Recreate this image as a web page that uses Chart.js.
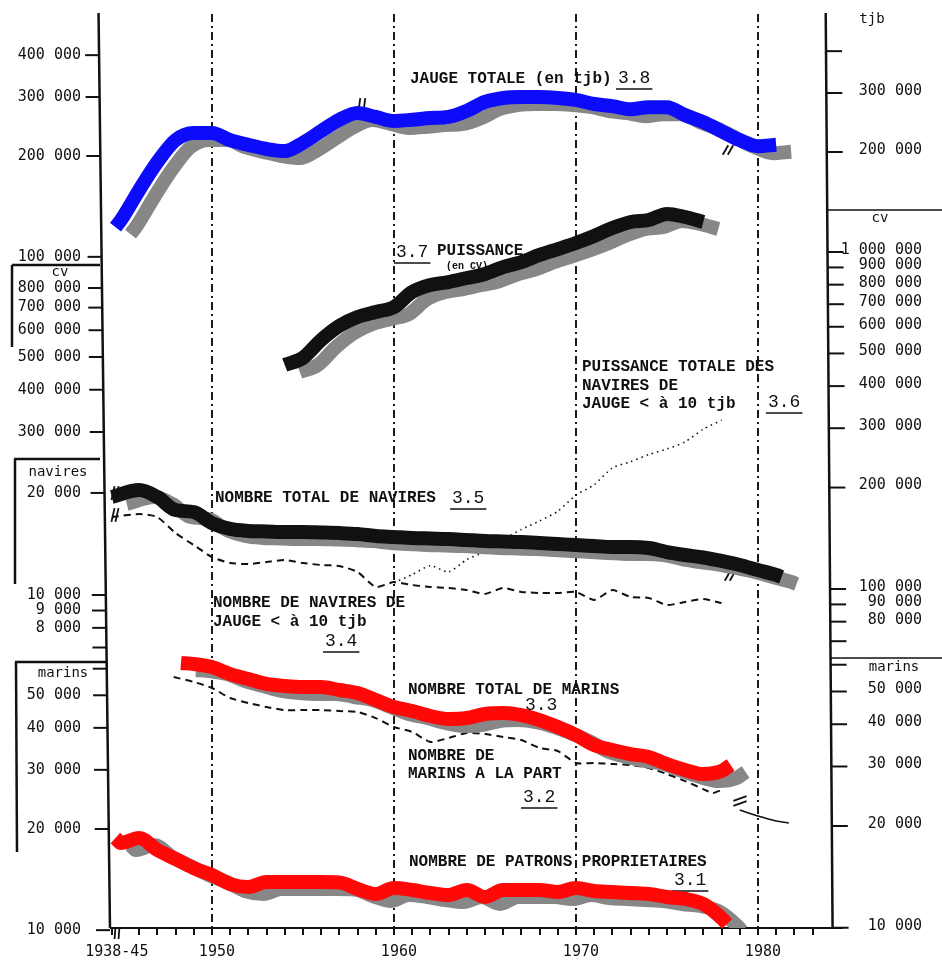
<!DOCTYPE html>
<html><head><meta charset="utf-8">
<script src="https://cdn.jsdelivr.net/npm/chart.js@4/dist/chart.umd.min.js"></script>
<style>html,body{margin:0;padding:0;background:#fff}canvas{display:block}</style>
</head><body>
<canvas id="c" width="942" height="970"></canvas>
<script>
// ================= DATA =================
// 3.8 Jauge totale (tjb)
const yearsJauge = [1944.7,1945,1946,1947,1948,1949,1950,1951,1952,1953,1954,1955,1956,1957,1958,1959,1960,1961,1962,1963,1964,1965,1966,1967,1968,1969,1970,1971,1972,1973,1974,1975,1976,1977,1978,1979,1980,1981];
const jaugeTotale = [121000,127000,156000,189000,220000,231000,231000,220000,213000,207000,204000,216000,234000,253000,265000,258000,251000,253000,256000,258000,269000,286000,294000,296000,296000,294000,290000,282000,278000,272000,276000,276000,261000,249000,234000,220000,211000,213000];
// 3.7 Puissance totale (cv)
const yearsPuissance = [1954,1955,1956,1957,1958,1959,1960,1961,1962,1963,1964,1965,1966,1967,1968,1969,1970,1971,1972,1973,1974,1975,1976,1977];
const puissanceTotale = [465000,488000,552000,608000,646000,669000,692000,767000,805000,822000,845000,869000,911000,943000,990000,1031000,1075000,1128000,1191000,1242000,1259000,1312000,1285000,1242000];
// 3.6 Puissance totale des navires de jauge < a 10 tjb (cv)
const yearsPuissancePetits = [1960,1961,1962,1963,1964,1965,1966,1967,1968,1969,1970,1971,1972,1973,1974,1975,1976,1977,1978];
const puissancePetits = [104000,110000,117000,112000,122000,129000,140000,150000,159000,170000,190000,204000,229000,239000,251000,261000,274000,299000,318000];
// 3.5 Nombre total de navires
const yearsNavires = [1944.5,1946,1947,1948,1949,1950,1951,1952,1953,1954,1955,1956,1957,1958,1959,1960,1961,1962,1963,1964,1965,1966,1967,1968,1969,1970,1971,1972,1973,1974,1975,1976,1977,1978,1979,1980,1981,1981.3];
const naviresTotal = [19460,20400,19460,17810,17570,16300,15660,15450,15400,15340,15340,15290,15230,15130,14930,14830,14730,14680,14630,14530,14430,14380,14330,14240,14140,14040,13950,13860,13860,13760,13390,13120,12900,12600,12260,11850,11460,11300];
// 3.4 Nombre de navires de jauge < a 10 tjb
const yearsPetitsNavires = [1944.5,1946,1947,1948,1949,1950,1951,1952,1953,1954,1955,1956,1957,1958,1959,1960,1961,1962,1963,1964,1965,1966,1967,1968,1969,1970,1971,1972,1973,1974,1975,1976,1977,1978];
const petitsNavires = [16980,17330,16980,15230,14040,12940,12430,12340,12510,12680,12430,12260,12180,11690,10560,10920,10700,10560,10490,10340,10070,10490,10210,10140,10140,10210,9670,10340,9870,9800,9340,9540,9730,9470];
// 3.3 Nombre total de marins
const yearsMarins = [1948.3,1949,1950,1951,1952,1953,1954,1955,1956,1957,1958,1959,1960,1961,1962,1963,1964,1965,1966,1967,1968,1969,1970,1971,1972,1973,1974,1975,1976,1977,1978,1978.5];
const marinsTotal = [61340,60900,59640,56840,54920,53080,52360,52000,52000,50940,49900,47540,45300,44080,42600,41720,42000,43200,43460,42880,41420,39500,37380,34900,33720,32800,32140,30620,29380,28580,29180,30420];
// 3.2 Nombre de marins a la part (and continuation after the break)
const yearsMarinsPart = [1947.9,1949,1950,1951,1952,1953,1954,1955,1956,1957,1958,1959,1960,1961,1962,1963,1964,1965,1966,1967,1968,1969,1970,1971,1972,1973,1974,1975,1976,1977,1977.5,1978];
const marinsPart = [55700,53820,51640,48200,46580,45300,44380,44380,44380,44080,43780,42000,39500,38180,35620,36620,37900,37640,36880,36120,34200,33500,30840,30840,30620,30420,29800,28580,27240,25780,25080,25620];
const yearsMarinsPartSuite = [1979,1980,1981,1981.7];
const marinsPartSuite = [22320,21420,20700,20420];
// 3.1 Nombre de patrons proprietaires
const yearsPatrons = [1944.7,1945,1946,1947,1948,1949,1950,1951,1952,1953,1954,1955,1956,1957,1958,1959,1960,1961,1962,1963,1964,1965,1966,1967,1968,1969,1970,1971,1972,1973,1974,1975,1976,1977,1978,1978.3];
const patrons = [18420,17800,18420,16960,15940,14980,14280,13420,13150,13600,13600,13600,13600,13560,12970,12530,13060,12880,12620,12440,12880,12280,12880,12880,12880,12710,13060,12790,12710,12620,12530,12280,12110,11700,10620,10200];

// tick labels
const xTickYears = [1944.5,1946,1947,1948,1949,1950,1951,1952,1953,1954,1955,1956,1957,1958,1959,1960,1961,1962,1963,1964,1965,1966,1967,1968,1969,1970,1971,1972,1973,1974,1975,1976,1977,1978,1979,1980,1981,1982,1983];
const xTickLabels = {1944.5:'1938-45',1950:'1950',1960:'1960',1970:'1970',1980:'1980'};
const ticksTjbLeft = [400000,300000,200000,100000];
const ticksCvLeft = [800000,700000,600000,500000,400000,300000];
const ticksNavLeft = [20000,10000,9000,8000];
const ticksNavLeftMinor = [7000];
const ticksMarLeft = [50000,40000,30000,20000,10000];
const ticksMarLeftMinor = [60000];
const ticksTjbRight = [300000,200000];
const ticksTjbRightMinor = [400000];
const ticksCvRight = [1000000,900000,800000,700000,600000,500000,400000,300000,200000,100000,90000,80000];
const ticksCvRightMinor = [70000];
const ticksMarRight = [50000,40000,30000,20000,10000];
const ticksMarRightMinor = [60000];

// ================= LAYOUT =================
const AREA = {left:104, right:828, top:14, bottom:928};
const X_MIN = 1944.07, X_MAX = 1983.85;
const sk = y => -5 + 0.0125*(y-50);          // slight skew of the scanned frame
const axisL = y => AREA.left + sk(y);
const axisR = y => AREA.right + 1 + 0.6*sk(y);

function logScale(v, p, k){
  const l = Math.log10(v);
  return {type:'logarithmic', axis:'y', position:'left', display:false, bounds:'data',
    min: Math.pow(10, l - (AREA.bottom - p)/k), max: Math.pow(10, l + (p - AREA.top)/k)};
}
const fmt = v => String(v).replace(/\B(?=(\d{3})+(?!\d))/g,' ');
const pts = (xs, ys) => xs.map((x,i)=>({x, y: ys[i]}));
const thick = (label, xs, ys, axis, color) => ({label, data: pts(xs,ys), yAxisID: axis, borderColor: color,
  borderWidth: 14, borderCapStyle:'butt', borderJoinStyle:'round', cubicInterpolationMode:'monotone',
  pointRadius:0, fill:false, shadow:true});
const thin = (label, xs, ys, axis, dash, w) => ({label, data: pts(xs,ys), yAxisID: axis, borderColor:'#111',
  borderWidth: w, borderDash: dash, tension:0.2, pointRadius:0, fill:false});

const LEFT_TICKS = [
  {scale:'tjbL', major:ticksTjbLeft, minor:[]},
  {scale:'cvL', major:ticksCvLeft, minor:[]},
  {scale:'navL', major:ticksNavLeft, minor:ticksNavLeftMinor},
  {scale:'marL', major:ticksMarLeft, minor:ticksMarLeftMinor},
];
const RIGHT_TICKS = [
  {scale:'tjbR', major:ticksTjbRight, minor:ticksTjbRightMinor},
  {scale:'cvR', major:ticksCvRight, minor:ticksCvRightMinor},
  {scale:'marR', major:ticksMarRight, minor:ticksMarRightMinor},
];
const MONO = '"Liberation Mono", "DejaVu Sans Mono", monospace';
const TEXTS = [
  {t:'JAUGE TOTALE (en tjb)', x:410, y:79},
  {t:'PUISSANCE', x:437, y:251},
  {t:'(en CV)', x:446, y:266, f:'bold 10px '+MONO},
  {t:'PUISSANCE TOTALE DES', x:582, y:367},
  {t:'NAVIRES DE', x:582, y:386},
  {t:'JAUGE < à 10 tjb', x:582, y:404},
  {t:'NOMBRE TOTAL DE NAVIRES', x:215, y:498},
  {t:'NOMBRE DE NAVIRES DE', x:213, y:603},
  {t:'JAUGE < à 10 tjb', x:213, y:622},
  {t:'NOMBRE TOTAL DE MARINS', x:408, y:690},
  {t:'NOMBRE DE', x:408, y:756},
  {t:'MARINS A LA PART', x:408, y:774},
  {t:'NOMBRE DE PATRONS PROPRIETAIRES', x:409, y:862},
];
const NUMS = [
  {t:'3.8', x:618, y:78}, {t:'3.7', x:396, y:252}, {t:'3.6', x:768, y:402},
  {t:'3.5', x:452, y:498}, {t:'3.4', x:325, y:641}, {t:'3.3', x:525, y:705, noUl:true},
  {t:'3.2', x:523, y:797}, {t:'3.1', x:674, y:880},
];
const BREAKS = [
  {x:728, y:150, a:-1.05, len:11, dx:5, dy:0},
  {x:730, y:576, a:-1.05, len:11, dx:5, dy:0},
  {x:740, y:801, a:-0.35, len:14, dx:0, dy:5},
  {x:115, y:493, a:-1.35, len:14, dx:4, dy:0},
  {x:115, y:515, a:-1.35, len:14, dx:4, dy:0},
  {x:362, y:104, a:-1.45, len:12, dx:5, dy:0},
  {x:117, y:933, a:-1.5, len:12, dx:4, dy:0},
];

// ================= PLUGINS =================
const shadowPlugin = {
  id:'shadow',
  beforeDatasetDraw(chart, args){
    const ds = chart.data.datasets[args.index];
    if (ds.shadow){ const c = chart.ctx; c.save(); c.shadowColor='#878787'; c.shadowOffsetX=15; c.shadowOffsetY=7; c.shadowBlur=0; }
  },
  afterDatasetDraw(chart, args){ if (chart.data.datasets[args.index].shadow) chart.ctx.restore(); }
};

const framePlugin = {
  id:'frame',
  beforeDatasetsDraw(chart){
    const c = chart.ctx; c.save();
    c.strokeStyle = '#111'; c.fillStyle = '#111'; c.lineCap='butt';
    // axis lines
    c.lineWidth = 2.5;
    c.beginPath(); c.moveTo(axisL(13),13); c.lineTo(axisL(AREA.bottom),AREA.bottom); c.stroke();
    c.beginPath(); c.moveTo(axisR(13),13); c.lineTo(axisR(AREA.bottom),AREA.bottom); c.stroke();
    c.lineWidth = 2;
    c.beginPath(); c.moveTo(axisL(AREA.bottom), AREA.bottom); c.lineTo(843, AREA.bottom); c.stroke();
    // panel boxes (left)
    const seg = (x1,y1,x2,y2,w)=>{ c.lineWidth=w; c.beginPath(); c.moveTo(x1,y1); c.lineTo(x2,y2); c.stroke(); };
    seg(12,265,100,265,2.5); seg(12,265,12,347,2.5);
    seg(14,459,100,459,2.5); seg(15,459,15,584,2.5);
    seg(15,662,107,662,2.5); seg(16,662,17,852,2.5);
    // panel separators (right)
    seg(828,210,942,210,1.6); seg(830,658,942,658,1.6);
    // unit labels
    c.font = '14px "DejaVu Sans Mono"'; c.textAlign='center'; c.textBaseline='middle';
    c.fillText('tjb', 872, 19); c.fillText('cv', 880, 218); c.fillText('marins', 894, 667);
    c.fillText('cv', 60, 272); c.fillText('navires', 58, 472); c.fillText('marins', 63, 673);
    // y ticks and labels
    c.font = '15px "DejaVu Sans Mono"'; c.textAlign='right';
    for (const g of LEFT_TICKS){
      const s = chart.scales[g.scale];
      for (const v of g.major.concat(g.minor)){
        const y = s.getPixelForValue(v), x = axisL(y);
        seg(x-14, y, x, y, 2);
        if (g.major.includes(v)) c.fillText(fmt(v), 81, y);
      }
    }
    for (const g of RIGHT_TICKS){
      const s = chart.scales[g.scale];
      for (const v of g.major.concat(g.minor)){
        const y = s.getPixelForValue(v), x = axisR(y);
        seg(x, y, x+16, y, 2);
        if (g.major.includes(v)) c.fillText(fmt(v), 922, y-2);
      }
    }
    // annotations
    c.textAlign='left';
    for (const t of TEXTS){ c.font = t.f || ('bold 16px '+MONO); c.fillText(t.t, t.x, t.y); }
    c.font = '18px '+MONO;
    for (const n of NUMS){
      c.fillText(n.t, n.x, n.y);
      if (!n.noUl){ const w = c.measureText(n.t).width; seg(n.x-2, n.y+11, n.x+w+2, n.y+11, 1.5); }
    }
    // break marks
    for (const b of BREAKS){
      const ux = Math.cos(b.a)*b.len/2, uy = Math.sin(b.a)*b.len/2;
      for (const s of [-0.5,0.5]){
        const cx = b.x + s*b.dx, cy = b.y + s*b.dy;
        seg(cx-ux, cy-uy, cx+ux, cy+uy, 1.8);
      }
    }
    c.restore();
  }
};

// ================= CHART =================
new Chart(document.getElementById('c'), {
  type:'line',
  data:{ datasets:[
    thick('3.8 Jauge totale (en tjb)', yearsJauge, jaugeTotale, 'tjb', 'rgb(12,12,250)'),
    thick('3.7 Puissance totale (en CV)', yearsPuissance, puissanceTotale, 'cv', '#111'),
    thick('3.5 Nombre total de navires', yearsNavires, naviresTotal, 'nav', '#111'),
    thick('3.3 Nombre total de marins', yearsMarins, marinsTotal, 'mar', 'rgb(255,8,8)'),
    thick('3.1 Nombre de patrons propriétaires', yearsPatrons, patrons, 'mar', 'rgb(255,8,8)'),
    thin('3.6 Puissance totale des navires de jauge < à 10 tjb', yearsPuissancePetits, puissancePetits, 'cv', [1.5,4], 1.6),
    thin('3.4 Nombre de navires de jauge < à 10 tjb', yearsPetitsNavires, petitsNavires, 'nav', [7,5], 2),
    thin('3.2 Nombre de marins à la part', yearsMarinsPart, marinsPart, 'mar', [7,5], 2),
    thin('3.2 (suite)', yearsMarinsPartSuite, marinsPartSuite, 'mar', [], 1.6),
  ]},
  options:{
    responsive:false, animation:false, devicePixelRatio:1,
    layout:{padding:{left:AREA.left, right:942-AREA.right, top:AREA.top, bottom:0}},
    plugins:{legend:{display:false}, tooltip:{enabled:false}, title:{display:false}},
    scales:{
      x:{type:'linear', min:X_MIN, max:X_MAX, bounds:'data',
        afterBuildTicks: s => { s.ticks = xTickYears.map(v=>({value:v})); },
        afterFit: s => { s.height = 970 - AREA.bottom; },
        grid:{ color: c => (c.tick && c.tick.value % 10 === 0) ? '#1a1a1a' : 'rgba(0,0,0,0)', lineWidth:2,
               tickColor:'#111', tickLength:7, tickWidth:2, drawOnChartArea:true },
        border:{display:false, dash:[8,4,2,4]},
        ticks:{autoSkip:false, maxRotation:0, minRotation:0, labelOffset:5, padding:8, color:'#111',
               font:{family:'DejaVu Sans Mono', size:15},
               callback: v => xTickLabels[v] || ''}
      },
      tjb: logScale(200000,154,335),
      cv: logScale(1000000,253.5,335),
      nav: logScale(10000,595,339),
      mar: logScale(20000,826,335),
      tjbL: logScale(200000,156,335),
      tjbR: logScale(200000,152,335),
      cvL: logScale(800000,288,338),
      cvR: logScale(1000000,252,337),
      navL: logScale(10000,595,339),
      marL: logScale(20000,829,336),
      marR: logScale(20000,826,338),
    }
  },
  plugins:[shadowPlugin, framePlugin]
});
</script>
</body></html>
